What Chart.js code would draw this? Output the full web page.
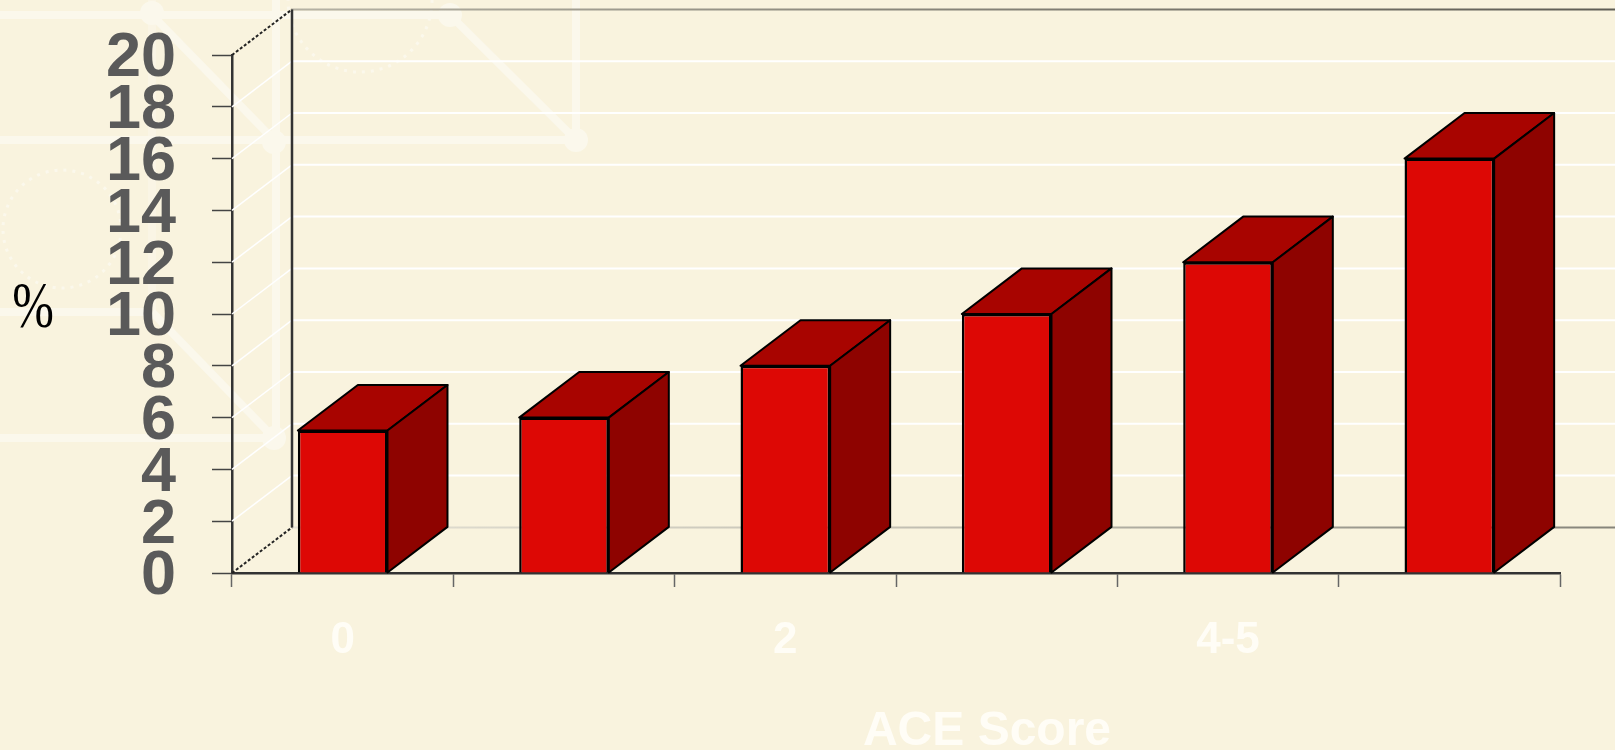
<!DOCTYPE html>
<html>
<head>
<meta charset="utf-8">
<title>ACE Score</title>
<script src="https://cdn.jsdelivr.net/npm/chart.js@4/dist/chart.umd.min.js"></script>
<style>
	html, body { margin: 0; padding: 0; background: #f9f3de; overflow: hidden; }
	#wrap { position: relative; width: 1615px; height: 750px; }
</style>
</head>
<body>
<div id="wrap"><canvas id="aceChart" width="1615" height="750"></canvas></div>
<script>
var categories = ['0', '1', '2', '3', '4-5', '6+'];
var percentValues = [5.5, 6, 8, 10, 12, 16];
var yAxisTitle = '%';
var xAxisTitle = 'ACE Score';

// how far the fake 3d box goes back
var depthX = 60;
var depthY = 45.6;

function poly(ctx, pts, fill, stroke, width) {
	ctx.beginPath();
	ctx.moveTo(pts[0][0], pts[0][1]);
	for (var i = 1; i < pts.length; i++) {
		ctx.lineTo(pts[i][0], pts[i][1]);
	}
	ctx.closePath();
	ctx.fillStyle = fill;
	ctx.fill();
	ctx.strokeStyle = stroke;
	ctx.lineWidth = width;
	ctx.lineJoin = 'round';
	ctx.stroke();
}

function seg(ctx, x1, y1, x2, y2, color, width, dash) {
	ctx.beginPath();
	ctx.setLineDash(dash || []);
	ctx.moveTo(x1, y1);
	ctx.lineTo(x2, y2);
	ctx.strokeStyle = color;
	ctx.lineWidth = width;
	ctx.stroke();
	ctx.setLineDash([]);
}

/*----page backdrop pattern----*/
var backdrop = {
	id: 'backdrop',
	beforeDraw: function(chart) {
		var ctx = chart.ctx;
		var pale = '#fbf8ec';
		ctx.save();
		ctx.fillStyle = '#f9f3de';
		ctx.fillRect(0, 0, chart.width, chart.height);
		seg(ctx, 152, 0, 152, 312, '#faf5e5', 8);
		seg(ctx, 0, 15, 450, 15, pale, 8);
		seg(ctx, 0, 140, 576, 140, pale, 8);
		seg(ctx, 0, 312, 152, 312, pale, 8);
		seg(ctx, 0, 438, 274, 438, pale, 8);
		seg(ctx, 276, 0, 276, 438, pale, 8);
		seg(ctx, 576, 0, 576, 140, pale, 8);
		seg(ctx, 152, 15, 274, 140, pale, 8);
		seg(ctx, 450, 15, 576, 140, pale, 8);
		seg(ctx, 152, 312, 274, 438, pale, 8);
		[[152, 13], [450, 15], [274, 142], [576, 140], [274, 438]].forEach(function(p) {
			ctx.beginPath();
			ctx.arc(p[0], p[1], 12, 0, Math.PI * 2);
			ctx.fillStyle = pale;
			ctx.fill();
		});
		ctx.setLineDash([3, 6]);
		ctx.strokeStyle = pale;
		ctx.lineWidth = 3;
		ctx.beginPath();
		ctx.arc(62, 229, 59, 0, Math.PI * 2);
		ctx.stroke();
		ctx.beginPath();
		ctx.arc(360, 0, 72, 0, Math.PI);
		ctx.stroke();
		ctx.restore();
	}
};

/*----walls behind the bars----*/
var walls = {
	id: 'walls',
	beforeDatasetsDraw: function(chart) {
		var ctx = chart.ctx;
		var y = chart.scales.y;
		var area = chart.chartArea;
		var backX = area.left + depthX;
		ctx.save();
		y.ticks.forEach(function(t) {
			var py = y.getPixelForValue(t.value);
			if (t.value > 0 && t.value < 20) {
				seg(ctx, area.left, py, backX, py - depthY, '#ffffff', 1.5);
				seg(ctx, backX, py - depthY, chart.width, py - depthY, '#ffffff', 2);
			}
		});
		var top = y.getPixelForValue(20) - depthY;
		var floor = y.getPixelForValue(0) - depthY;
		// wall edges fade in from the left in the original
		var topFade = ctx.createLinearGradient(backX, 0, chart.width, 0);
		topFade.addColorStop(0, '#b5b2a4');
		topFade.addColorStop(0.4, '#8f8c80');
		topFade.addColorStop(1, '#5f5d55');
		var floorFade = ctx.createLinearGradient(backX, 0, chart.width, 0);
		floorFade.addColorStop(0, '#e6e3d6');
		floorFade.addColorStop(0.45, '#c4c1b4');
		floorFade.addColorStop(1, '#86847a');
		seg(ctx, backX, top, chart.width, top, topFade, 2);
		seg(ctx, backX, floor, chart.width, floor, floorFade, 2);
		seg(ctx, backX, top, backX, floor, '#333333', 2.5);
		seg(ctx, area.left, area.top, backX, top, '#222222', 2, [3, 2]);
		seg(ctx, area.left, area.bottom, backX, floor, '#222222', 2, [3, 2]);
		ctx.restore();
	}
};

/*----top and side of each bar----*/
var barFaces = {
	id: 'barFaces',
	afterDatasetsDraw: function(chart) {
		var ctx = chart.ctx;
		ctx.save();
		chart.getDatasetMeta(0).data.forEach(function(bar) {
			var l = bar.x - bar.width / 2;
			var r = bar.x + bar.width / 2;
			var t = bar.y;
			var b = bar.base;
			poly(ctx, [[l, t], [l + depthX, t - depthY], [r + depthX, t - depthY], [r, t]], '#a80400', '#000000', 2);
			poly(ctx, [[r, t], [r + depthX, t - depthY], [r + depthX, b - depthY], [r, b]], '#8e0300', '#000000', 2);
		});
		ctx.restore();
	}
};

/*----titles sit off centre in the original so they are placed here----*/
var titles = {
	id: 'titles',
	afterDraw: function(chart) {
		var ctx = chart.ctx;
		ctx.save();
		ctx.textAlign = 'center';
		ctx.textBaseline = 'alphabetic';
		ctx.fillStyle = '#000000';
		ctx.font = '50px "Liberation Serif"';
		ctx.save();
		ctx.translate(33, 327);
		ctx.scale(1, 1.3);
		ctx.fillText(yAxisTitle, 0, 0);
		ctx.restore();
		ctx.fillStyle = '#fffdf6';
		ctx.font = 'bold 48px "Liberation Sans"';
		ctx.fillText(xAxisTitle, 987, 745);
		ctx.restore();
	}
};

var ctx = document.getElementById('aceChart');
var myChart = new Chart(ctx, {
	type: 'bar',
	data: {
		labels: categories,
		datasets: [{
			label: '%',
			data: percentValues,
			backgroundColor: '#dd0805',
			borderColor: '#000000',
			borderWidth: 2.5,
			barPercentage: 0.405,
			categoryPercentage: 1
		}]
	},
	plugins: [backdrop, walls, barFaces, titles],
	options: {
		responsive: false,
		animation: false,
		layout: {
			padding: { left: 0, right: 55, top: 55, bottom: 0 }
		},
		plugins: {
			legend: { display: false },
			tooltip: { enabled: false }
		},
		scales: {
			x: {
				afterFit: function(scale) { scale.height = 177; },
				border: { color: '#333333', width: 2.5 },
				grid: {
					drawOnChartArea: false,
					tickLength: 14,
					tickColor: '#666666',
					tickWidth: 1.5
				},
				ticks: {
					autoSkip: false,
					maxRotation: 0,
					padding: 27,
					color: '#fffdf6',
					font: { family: '"Liberation Sans"', size: 44, weight: 'bold' },
					callback: function(value, index) {
						return index % 2 === 0 ? categories[index] : '';
					}
				}
			},
			y: {
				min: 0,
				max: 20,
				afterFit: function(scale) {
					scale.width = 232;
					scale.paddingTop = 0;
					scale.paddingBottom = 0;
				},
				border: { color: '#333333', width: 2.5 },
				grid: {
					drawOnChartArea: false,
					tickLength: 20,
					tickColor: '#444444',
					tickWidth: 1.5
				},
				ticks: {
					stepSize: 2,
					autoSkip: false,
					padding: 36,
					labelOffset: 4,
					color: '#5a5a5a',
					font: { family: '"Liberation Sans"', size: 63, weight: 'bold' }
				}
			}
		}
	}
});
</script>
</body>
</html>
